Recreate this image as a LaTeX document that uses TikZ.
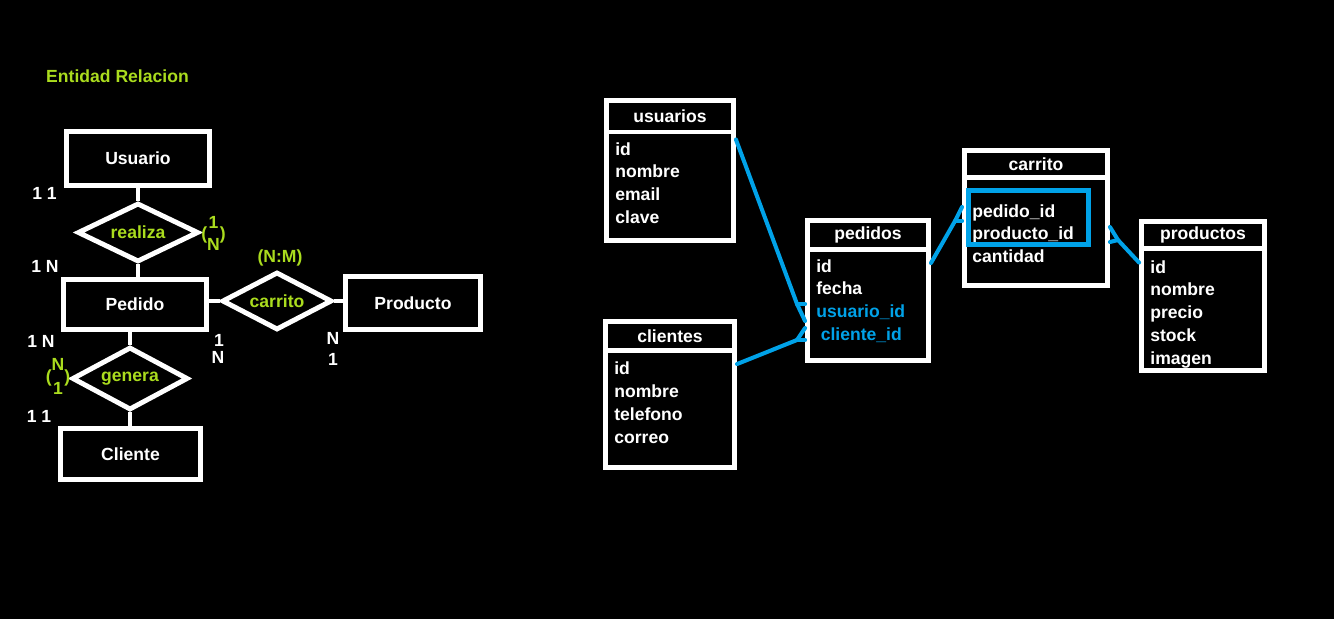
\documentclass[tikz,border=0pt]{standalone}
\usepackage{fontspec}
\setmainfont{Liberation Sans}
\usetikzlibrary{shapes.geometric}
\usetikzlibrary{calc}
\definecolor{verde}{RGB}{170,220,30}
\definecolor{azul}{RGB}{0,162,232}

\begin{document}
\begin{tikzpicture}[x=0.02cm,y=-0.02cm,
font=\bfseries\fontsize{10}{13}\selectfont,
entidad/.style={rectangle,draw=white,line width=2.8pt,text=white,minimum width=2.8cm,minimum height=1.04cm},
relacion/.style={diamond,aspect=2,draw=white,line width=2.8pt,text=verde,inner sep=0pt},
tabla/.style={rectangle,draw=white,line width=2.8pt,text=white,inner sep=0pt},
campos/.style={anchor=north west,align=left,inner sep=0pt,text=white},
card/.style={text=white,inner sep=1pt},
enlace/.style={azul,line width=2.3pt,line cap=round,line join=round}
]
\fill[black] (0,0) rectangle (1334,619);
\useasboundingbox (0,0) rectangle (1334,619);

\node[text=verde] (titulo) at (117.5,76) {Entidad Relacion};
\node[entidad,minimum width=2.86cm,minimum height=1.08cm] (usuario) at (138,158.5) {Usuario};
\node[relacion,minimum width=2.42cm,minimum height=1.18cm] (realiza) at (138,232.5) {realiza};
\node[entidad,minimum width=2.86cm,minimum height=1cm] (pedido) at (135,304.5) {Pedido};
\node[relacion,minimum width=2.2cm,minimum height=1.16cm] (carrito) at (277,301) {carrito};
\node[entidad,minimum width=2.7cm,minimum height=1.06cm] (producto) at (413,303) {Producto};
\node[relacion,minimum width=2.32cm,minimum height=1.26cm] (genera) at (130,378.5) {genera};
\node[entidad,minimum width=2.8cm,minimum height=1.02cm] (cliente) at (130.5,454) {Cliente};
\begin{scope}[white,line width=2.5pt]
\draw (usuario)--(realiza);
\draw (realiza.south)--(realiza.south |- pedido.north);
\draw (pedido.east |- carrito.west)--(carrito.west);
\draw (carrito.east)--(carrito.east -| producto.west);
\draw (genera.north |- pedido.south)--(genera.north);
\draw (genera.south)--(genera.south |- cliente.north);
\end{scope}
\node[card] (m-usuario) at (44.5,193) {1 1};
\node[card] (m-pedido-sup) at (45,266) {1 N};
\node[card] (m-pedido-inf) at (41,341) {1 N};
\node[card] (m-cliente) at (39,416) {1 1};
\node[card] (m-pedido-a) at (219,340) {1};
\node[card] (m-pedido-b) at (218,357) {N};
\node[card] (m-producto-a) at (333,338) {N};
\node[card] (m-producto-b) at (333,359) {1};
\node[card,text=verde] (c-realiza) at (213.5,235) {(\begin{tabular}{@{}c@{}}1\\N\end{tabular})};
\node[card,text=verde] (c-genera) at (58,378) {(\begin{tabular}{@{}c@{}}N\\[1pt]1\end{tabular})};
\node[card,text=verde] (c-carrito) at (280,258) {(N:M)};

\node[tabla,minimum width=2.54cm,minimum height=0.63cm] (usuarios) at (670,116.25) {usuarios};
\node[tabla,minimum width=2.54cm,minimum height=2.17cm] (usuarios-campos) at (670,186.25) {};
\node[campos] (usuarios-lista) at (615,142) {id\\nombre\\email\\clave};

\node[tabla,minimum width=2.42cm,minimum height=0.58cm] (pedidos) at (868,235) {pedidos};
\node[tabla,minimum width=2.42cm,minimum height=2.22cm] (pedidos-campos) at (868,305) {};
\node[campos] (pedidos-lista) at (816,259) {id\\fecha\\{\color{azul}usuario\_id}\\{\color{azul}\hspace*{2.5pt}cliente\_id}};

\node[tabla,minimum width=2.58cm,minimum height=0.58cm] (clientes) at (670,336) {clientes};
\node[tabla,minimum width=2.58cm,minimum height=2.34cm] (clientes-campos) at (670,409) {};
\node[campos] (clientes-lista) at (614,361.5) {id\\nombre\\telefono\\correo};

\node[tabla,minimum width=2.86cm,minimum height=0.54cm] (carrito-t) at (1036,164) {carrito};
\node[tabla,minimum width=2.86cm,minimum height=2.16cm] (carrito-campos) at (1036,231.5) {};
\node[campos] (carrito-lista) at (972,204) {pedido\_id\\producto\_id\\cantidad};
\node[rectangle,draw=azul,line width=2.8pt,minimum width=2.4cm,minimum height=1.08cm] (clave-compuesta) at (1028.5,217.5) {};

\node[tabla,minimum width=2.46cm,minimum height=0.54cm] (productos) at (1203,235) {productos};
\node[tabla,minimum width=2.46cm,minimum height=2.44cm] (productos-campos) at (1203,309.5) {};
\node[campos] (productos-lista) at (1150,260) {id\\nombre\\precio\\stock\\imagen};

\coordinate (pata-usuario) at (797,304);
\coordinate (pata-cliente) at (797,340);
\coordinate (pata-pedido) at (955,221);
\coordinate (pata-producto) at (1118,240);
\begin{scope}[enlace]
\draw ($(usuarios-campos.north east)+(0,10)$)--(pata-usuario);
\draw (pata-usuario)--(pata-usuario -| pedidos-campos.west);
\draw (pata-usuario)--($(pata-usuario -| pedidos-campos.west)+(0,17)$);
\draw ($(clientes-campos.north east)+(0,16)$)--(pata-cliente);
\draw (pata-cliente)--(pata-cliente -| pedidos-campos.west);
\draw (pata-cliente)--($(pata-cliente -| pedidos-campos.west)+(0,-12)$);
\draw ($(pedidos-campos.north east)+(0,16)$)--(pata-pedido);
\draw (pata-pedido)--(pata-pedido -| carrito-campos.west);
\draw (pata-pedido)--($(pata-pedido -| carrito-campos.west)+(0,-14)$);
\draw ($(carrito-campos.east)+(0,-4.5)$)--(pata-producto)--($(productos-campos.north west)+(0,16.5)$);
\draw ($(carrito-campos.east)+(0,10.5)$)--(pata-producto);
\end{scope}
\end{tikzpicture}
\end{document}
